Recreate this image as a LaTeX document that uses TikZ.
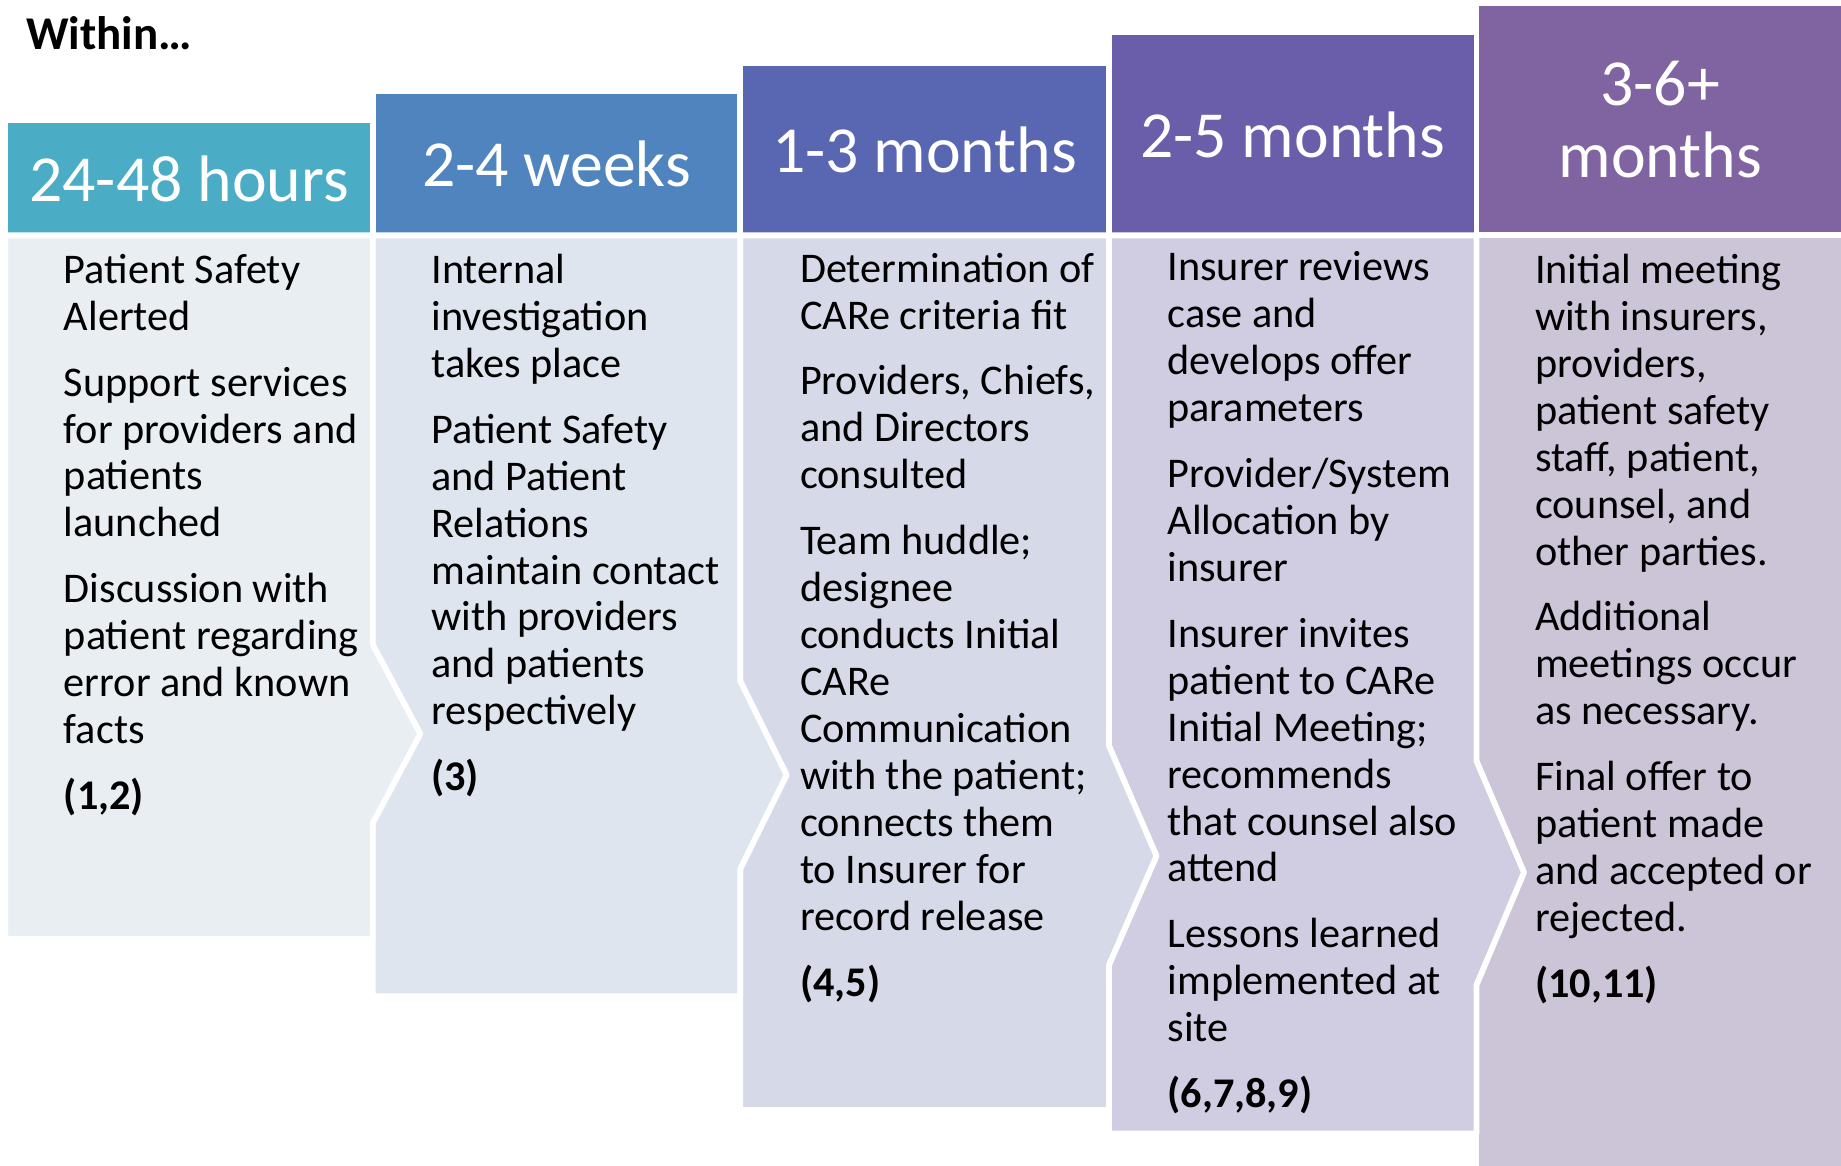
\documentclass[tikz,border=0pt]{standalone}
\usepackage{fontspec}
\setmainfont{Carlito}
\usepackage{tikz}
\definecolor{headA}{HTML}{4BACC6}
\definecolor{headB}{HTML}{4F84BE}
\definecolor{headC}{HTML}{5966B2}
\definecolor{headD}{HTML}{6A5DA9}
\definecolor{headE}{HTML}{8064A2}
\definecolor{bodyA}{HTML}{E8EEF2}
\definecolor{bodyB}{HTML}{DFE5EF}
\definecolor{bodyC}{HTML}{D6D9E8}
\definecolor{bodyD}{HTML}{D0CCE1}
\definecolor{bodyE}{HTML}{CCC5D8}
\begin{document}
\begin{tikzpicture}[x=0.5pt,y=-0.5pt,
  head/.style={text=white,align=center,font=\fontsize{28}{30.5}\selectfont},
  steptext/.style={anchor=north west,align=left,inner sep=0pt,font=\fontsize{18}{20}\selectfont},
  gap/.style={draw=white,line width=2.5pt,line join=round}]
\useasboundingbox (0,0) rectangle (1568,993);
\node[anchor=west,inner sep=0pt,font=\bfseries\fontsize{20}{24}\selectfont] (within) at (22,28) {Within…};
\fill[headA] (7,105) rectangle (315,199) node[midway,head] (hours) {24-48 hours};
\fill[headB] (320,80) rectangle (628,199) node[midway,head] (weeks) {2-4 weeks};
\fill[headC] (633,56) rectangle (942,199) node[midway,head] (monthsA) {1-3 months};
\fill[headD] (947,30) rectangle (1255,199) node[midway,head] (monthsB) {2-5 months};
\fill[headE] (1260,5) rectangle (1568,199) node[midway,head] (monthsC) {3-6+\\months};
\filldraw[gap,fill=bodyE] (1257.5,200.5) rectangle (1580,1010);
\filldraw[gap,fill=bodyD] (944.5,200.5) -- (1257.5,200.5) -- (1257.5,648) -- (1298,743) -- (1257.5,839) -- (1257.5,965.5) -- (944.5,965.5) -- cycle;
\filldraw[gap,fill=bodyC] (630.5,200.5) -- (944.5,200.5) -- (944.5,635) -- (985,729) -- (944.5,822) -- (944.5,945.5) -- (630.5,945.5) -- cycle;
\filldraw[gap,fill=bodyB] (317.5,200.5) -- (630.5,200.5) -- (630.5,580) -- (670,660) -- (630.5,740) -- (630.5,848.5) -- (317.5,848.5) -- cycle;
\filldraw[gap,fill=bodyA] (4.5,200.5) -- (317.5,200.5) -- (317.5,549) -- (358,625) -- (317.5,701) -- (317.5,799.5) -- (4.5,799.5) -- cycle;
\node[steptext] (stepA) at (54,216) {Patient Safety\\Alerted\\[8pt]Support services\\for providers and\\patients\\launched\\[8pt]Discussion with\\patient regarding\\error and known\\facts\\[8pt]\textbf{(1,2)}};
\node[steptext] (stepB) at (367,216) {Internal\\investigation\\takes place\\[8pt]Patient Safety\\and Patient\\Relations\\maintain contact\\with providers\\and patients\\respectively\\[8pt]\textbf{(3)}};
\node[steptext] (stepC) at (681,215) {Determination of\\CARe criteria fit\\[8pt]Providers, Chiefs,\\and Directors\\consulted\\[8pt]Team huddle;\\designee\\conducts Initial\\CARe\\Communication\\with the patient;\\connects them\\to Insurer for\\record release\\[8pt]\textbf{(4,5)}};
\node[steptext] (stepD) at (994,214) {Insurer reviews\\case and\\develops offer\\parameters\\[8pt]Provider/System\\Allocation by\\insurer\\[8pt]Insurer invites\\patient to CARe\\Initial Meeting;\\recommends\\that counsel also\\attend\\[8pt]Lessons learned\\implemented at\\site\\[8pt]\textbf{(6,7,8,9)}};
\node[steptext] (stepE) at (1307,216) {Initial meeting\\with insurers,\\providers,\\patient safety\\staff, patient,\\counsel, and\\other parties.\\[8pt]Additional\\meetings occur\\as necessary.\\[8pt]Final offer to\\patient made\\and accepted or\\rejected.\\[8pt]\textbf{(10,11)}};
\end{tikzpicture}
\end{document}
